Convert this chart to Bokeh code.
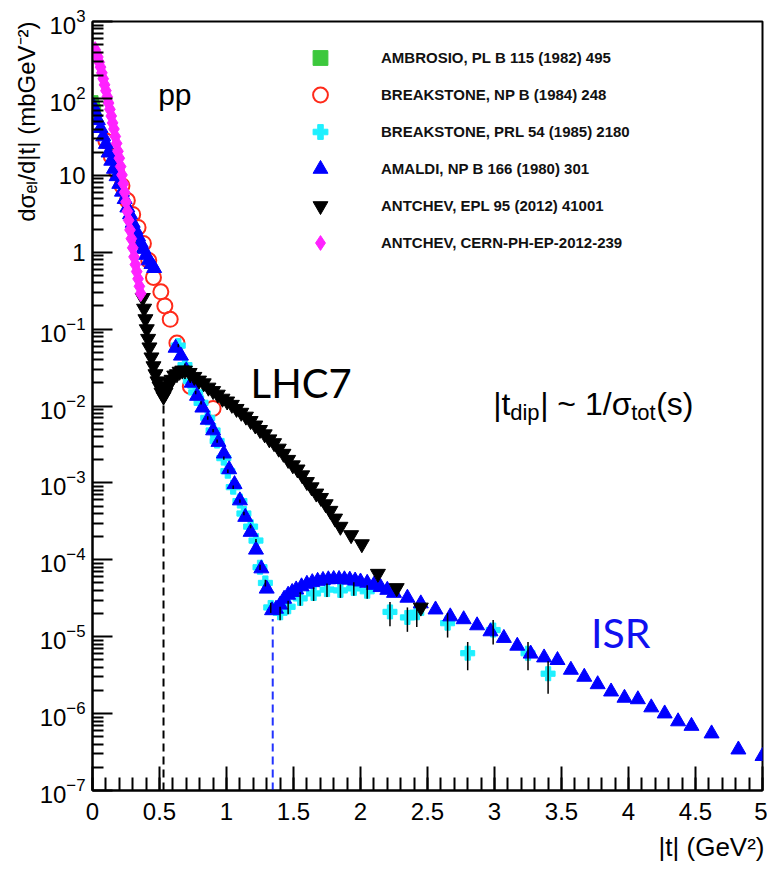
import numpy as np
from bokeh.plotting import figure
from bokeh.models import (Range1d, FixedTicker, ColumnDataSource, Label, Legend,
                          LegendItem, LogTickFormatter, Title)
from bokeh.embed import file_html
from bokeh.resources import INLINE

# ---------------- data ----------------
ambrosio_t = [0.0, 0.005, 0.01, 0.015, 0.02]
ambrosio_y = [92, 85, 78, 72, 66]

breakstone_npb_t = [0.10, 0.14, 0.18, 0.22, 0.26, 0.30, 0.34, 0.38, 0.42, 0.455,
                    0.51, 0.54, 0.58, 0.63, 0.73, 0.90]
breakstone_npb_y = [28, 17.7, 11.1, 7.3, 4.7, 3.1, 2.1, 1.3, 0.78, 0.47,
                    0.305, 0.2, 0.134, 0.066, 0.018, 0.0093]

breakstone_prl_t = [0.64, 0.69, 0.73, 0.77, 0.81, 0.86, 0.90, 0.93, 0.98, 1.01,
                    1.05, 1.10, 1.13, 1.18, 1.22, 1.25, 1.29, 1.33, 1.40, 1.46,
                    1.55, 1.65, 1.75, 1.85, 1.95, 2.05, 2.22, 2.35, 2.42, 2.65,
                    2.80, 2.99, 3.25, 3.40]
breakstone_prl_y = [0.061, 0.034, 0.021, 0.015, 0.011, 0.0070, 0.0048, 0.0035, 0.0021, 0.00142,
                    8.8e-4, 5.8e-4, 4.0e-4, 2.7e-4, 1.78e-4, 8.0e-5, 5.0e-5, 2.4e-5, 2.05e-5, 2.45e-5,
                    3.15e-5, 3.65e-5, 4.1e-5, 4.0e-5, 4.25e-5, 3.9e-5, 2.1e-5, 1.78e-5, 2.05e-5, 1.5e-5,
                    6.1e-6, 1.22e-5, 6.1e-6, 3.3e-6]
breakstone_prl_relerr = [0.05, 0.05, 0.05, 0.05, 0.05, 0.05, 0.05, 0.05, 0.05, 0.05,
                         0.05, 0.05, 0.05, 0.05, 0.05, 0.08, 0.1, 0.15, 0.2, 0.2,
                         0.2, 0.2, 0.2, 0.2, 0.2, 0.2, 0.35, 0.35, 0.35, 0.35,
                         0.4, 0.35, 0.4, 0.45]

amaldi_t = [0.00, 0.02, 0.04, 0.06, 0.08, 0.10, 0.12, 0.14, 0.16, 0.18,
            0.20, 0.22, 0.24, 0.26, 0.28, 0.30, 0.32, 0.34, 0.36, 0.38,
            0.40, 0.42, 0.44, 0.46,
            0.62, 0.66, 0.70, 0.74, 0.78, 0.82, 0.86, 0.90, 0.94, 0.98,
            1.02, 1.06, 1.10, 1.14, 1.18, 1.22, 1.26, 1.30, 1.34,
            1.37, 1.40, 1.43, 1.46, 1.49, 1.52, 1.56, 1.60, 1.64, 1.68,
            1.72, 1.76, 1.80, 1.84, 1.88, 1.92, 1.96, 2.00, 2.05, 2.10,
            2.15, 2.20, 2.25, 2.35, 2.45, 2.56, 2.67, 2.77, 2.87, 2.97,
            3.07, 3.17, 3.27, 3.37, 3.47, 3.57, 3.67, 3.77, 3.87, 3.97,
            4.07, 4.17, 4.27, 4.37, 4.47, 4.62, 4.82, 5.00]
amaldi_y = [82, 66, 52, 41, 32, 25.5, 19.7, 15.4, 12.1, 9.7,
            7.7, 6.1, 4.9, 3.8, 3.1, 2.4, 1.95, 1.6, 1.32, 1.1,
            0.92, 0.78, 0.7, 0.62,
            0.057, 0.045, 0.029, 0.020, 0.0135, 0.0095, 0.0066, 0.0048, 0.0034, 0.0024,
            0.0015, 9.6e-4, 5.9e-4, 3.6e-4, 2.3e-4, 1.35e-4, 7.7e-5, 4.2e-5, 2.2e-5,
            2.3e-5, 2.6e-5, 3.1e-5, 3.5e-5, 3.8e-5, 4.1e-5, 4.5e-5, 4.85e-5, 5.1e-5, 5.3e-5,
            5.45e-5, 5.55e-5, 5.6e-5, 5.6e-5, 5.55e-5, 5.5e-5, 5.35e-5, 5.2e-5, 5.0e-5, 4.7e-5,
            4.4e-5, 4.05e-5, 3.7e-5, 3.2e-5, 2.7e-5, 2.25e-5, 1.83e-5, 1.68e-5, 1.4e-5, 1.17e-5,
            9.6e-6, 7.6e-6, 6.0e-6, 5.35e-6, 4.95e-6, 3.7e-6, 3.0e-6, 2.4e-6, 1.93e-6, 1.6e-6,
            1.53e-6, 1.2e-6, 1.0e-6, 7.9e-7, 6.9e-7, 5.5e-7, 3.4e-7, 2.8e-7]

antchev_epl_t = [0.375, 0.385, 0.395, 0.405, 0.415, 0.425, 0.44, 0.455, 0.47, 0.485,
                 0.50, 0.515, 0.53, 0.545, 0.56, 0.575, 0.59, 0.61, 0.63, 0.65,
                 0.67, 0.69, 0.725, 0.76, 0.795, 0.83, 0.865, 0.90, 0.935, 0.97,
                 1.005, 1.04, 1.075, 1.11, 1.145, 1.18, 1.215, 1.25, 1.285, 1.32,
                 1.355, 1.39, 1.425, 1.46, 1.495, 1.53, 1.565, 1.60, 1.635, 1.67,
                 1.705, 1.74, 1.775, 1.81, 1.85, 1.93, 2.01, 2.13, 2.27, 2.45]
antchev_epl_y = [0.255, 0.185, 0.135, 0.1, 0.075, 0.058, 0.043, 0.033, 0.026, 0.021,
                 0.018, 0.015, 0.0133, 0.015, 0.0175, 0.02, 0.022, 0.025, 0.026, 0.028,
                 0.029, 0.029, 0.027, 0.024, 0.0215, 0.0198, 0.0174, 0.0157, 0.0141, 0.0125,
                 0.0115, 0.0104, 0.0092, 0.0082, 0.0073, 0.0064, 0.0056, 0.0049, 0.0043, 0.0037,
                 0.0033, 0.0028, 0.0024, 0.0020, 0.0017, 0.0015, 0.00126, 0.00103, 8.8e-4, 7.3e-4,
                 6.4e-4, 5.3e-4, 4.35e-4, 3.45e-4, 2.7e-4, 2.1e-4, 1.6e-4, 6.6e-5, 4.3e-5, 2.4e-5]

antchev_cern_t = [0.02, 0.03, 0.04, 0.05, 0.06, 0.07, 0.08, 0.09, 0.10, 0.11,
                  0.12, 0.13, 0.14, 0.15, 0.16, 0.17, 0.18, 0.19, 0.20, 0.21,
                  0.22, 0.23, 0.24, 0.25, 0.26, 0.27, 0.28, 0.29, 0.30, 0.31,
                  0.32, 0.33, 0.34, 0.35, 0.36]
antchev_cern_y = [430, 385, 345, 295, 255, 215, 180, 150, 126, 105,
                  87, 72, 59, 48, 40, 32, 26, 20.5, 16.7, 13,
                  10.1, 7.8, 6.0, 4.5, 3.4, 2.6, 1.95, 1.5, 1.14, 0.87,
                  0.69, 0.56, 0.45, 0.36, 0.29]

# dip positions (dashed guide lines)
dip_t = [0.53, 1.345]
dip_y = [0.011, 1.7e-5]
dip_colors = ["black", "#2233ff"]

legend_labels = ["AMBROSIO, PL B 115 (1982) 495",
                 "BREAKSTONE, NP B (1984) 248",
                 "BREAKSTONE, PRL 54 (1985) 2180",
                 "AMALDI, NP B 166 (1980) 301",
                 "ANTCHEV, EPL 95 (2012) 41001",
                 "ANTCHEV, CERN-PH-EP-2012-239"]

x_ticks = [0, 0.5, 1, 1.5, 2, 2.5, 3, 3.5, 4, 4.5, 5]
x_tick_labels = ["0", "0.5", "1", "1.5", "2", "2.5", "3", "3.5", "4", "4.5", "5"]
y_exponents = list(range(-7, 4))

x_title = "|t| (GeV²)"
y_title = "dσₑₗ/d|t| (mbGeV⁻²)"

# ---------------- figure ----------------
FONT = "Liberation Sans"
p = figure(width=767, height=871, x_range=Range1d(0, 5), y_range=Range1d(1e-7, 1e3),
           y_axis_type="log", output_backend="svg", toolbar_location=None,
           min_border_left=92, min_border_right=5, min_border_top=21, min_border_bottom=81)
p.xgrid.visible = False
p.ygrid.visible = False
p.outline_line_color = "black"
p.outline_line_width = 2
p.background_fill_color = "white"
p.border_fill_color = "white"

p.xaxis.ticker = FixedTicker(ticks=x_ticks, minor_ticks=[i / 10 for i in range(51)])
p.xaxis.major_label_overrides = {float(t): s for t, s in zip(x_ticks, x_tick_labels)}
y_major = [10.0 ** k for k in y_exponents]
y_minor = [m * 10.0 ** k for k in y_exponents[:-1] for m in range(2, 10)]
p.yaxis.ticker = FixedTicker(ticks=y_major, minor_ticks=y_minor)
p.yaxis.formatter = LogTickFormatter()
p.yaxis.major_label_overrides = {1.0: "1", 10.0: "10"}

for ax in (p.xaxis[0], p.yaxis[0]):
    ax.axis_line_width = 2
    ax.axis_line_color = "black"
    ax.major_tick_line_width = 2
    ax.minor_tick_line_width = 2
    ax.major_tick_line_color = "black"
    ax.minor_tick_line_color = "black"
    ax.major_tick_out = 0
    ax.minor_tick_out = 0
    ax.major_label_text_font = FONT
    ax.major_label_text_font_size = "24px"
    ax.major_label_text_color = "black"
p.xaxis.major_tick_in = 24
p.xaxis.minor_tick_in = 13
p.xaxis.major_label_standoff = 12
p.yaxis.major_tick_in = 20
p.yaxis.minor_tick_in = 11
p.yaxis.major_label_standoff = 7

# axis titles as side-panel titles (not clipped by the frame)
p.add_layout(Title(text=x_title, align="right", text_font=FONT, text_font_size="26px",
                   text_font_style="normal", text_color="black", standoff=14, offset=-2),
             "below")
p.add_layout(Title(text=y_title, align="right", text_font=FONT, text_font_size="24px",
                   text_font_style="normal", text_color="black", standoff=-6, offset=0),
             "left")

# ---------------- data marks ----------------
r_green = p.scatter(ambrosio_t, ambrosio_y, marker="square", size=11,
                    fill_color="#3cc83c", line_color="#3cc83c")
r_red = p.scatter(breakstone_npb_t, breakstone_npb_y, marker="circle", size=15,
                  fill_color=None, line_color="#ff2a1a", line_width=2)
r_cyan = p.scatter(breakstone_prl_t, breakstone_prl_y, marker="plus", size=14,
                   fill_color="#1ef0ff", line_color="#1ef0ff")
r_blue = p.scatter(amaldi_t, amaldi_y, marker="triangle", size=15,
                   fill_color="#0000ff", line_color="#0000ff")

err_src = ColumnDataSource(dict(
    t=breakstone_prl_t,
    lo=[y * (1 - e) for y, e in zip(breakstone_prl_y, breakstone_prl_relerr)],
    hi=[y * (1 + e) for y, e in zip(breakstone_prl_y, breakstone_prl_relerr)]))
p.segment(x0="t", y0="lo", x1="t", y1="hi", source=err_src, line_color="black", line_width=1.5)

r_black = p.scatter(antchev_epl_t, antchev_epl_y, marker="inverted_triangle", size=15,
                    fill_color="black", line_color="black")
r_mag = p.scatter(antchev_cern_t, antchev_cern_y, marker="diamond", size=16,
                  fill_color="#ff22ff", line_color="#ff22ff")

dip_src = ColumnDataSource(dict(x=dip_t, y0=[1e-7] * len(dip_t), y1=dip_y, c=dip_colors))
p.segment(x0="x", y0="y0", x1="x", y1="y1", source=dip_src, line_color="c",
          line_width=2, line_dash="8 5")

# ---------------- legend ----------------
items = [LegendItem(label=lab, renderers=[r]) for lab, r in
         zip(legend_labels, [r_green, r_red, r_cyan, r_blue, r_black, r_mag])]
legend = Legend(items=items, location=(207, 529), glyph_width=42, glyph_height=37,
                spacing=0, padding=0, margin=0, label_standoff=40,
                border_line_alpha=0, background_fill_alpha=0,
                label_text_font=FONT, label_text_font_style="bold",
                label_text_font_size="15px", label_text_color="#111111")
p.add_layout(legend)

# ---------------- texts ----------------
def lab(x, y, text, size, font=FONT, color="black", xo=0, yo=0):
    p.add_layout(Label(x=x, y=y, text=text, text_font=font, text_font_size=size,
                       text_color=color, x_offset=xo, y_offset=yo,
                       text_align="left", text_baseline="alphabetic"))

lab(0.49, 112, "pp", "30px")
lab(1.18, 0.0202, "LHC7", "40px", font="Lato")
lab(3.72, 1.13e-5, "ISR", "41px", font="Lato", color="#1010f0")

# |t_dip| ~ 1/sigma_tot(s)
lab(2.99, 0.0105, "|t", "32px")
lab(2.99, 0.0105, "dip", "22px", xo=17, yo=-8)
lab(2.99, 0.0105, "| ~ 1/σ", "32px", xo=47)
lab(2.99, 0.0105, "tot", "22px", xo=138, yo=-8)
lab(2.99, 0.0105, "(s)", "32px", xo=163)

open("out.html", "w").write(file_html(p, INLINE))
